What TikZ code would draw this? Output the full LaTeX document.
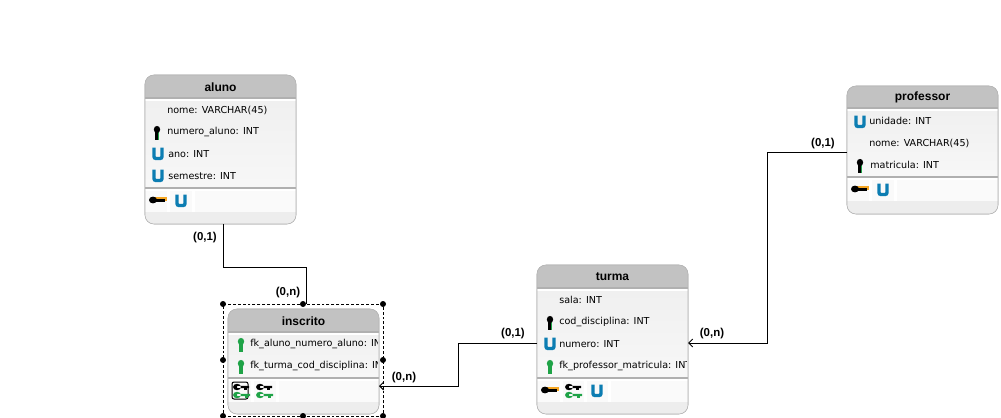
\documentclass[tikz,border=0pt]{standalone}
\usepackage{xcolor}
\usepackage{fontspec}
\setmainfont{Liberation Sans}
\newfontfamily\attrfont{DejaVu Sans}
\usetikzlibrary{positioning}
\usetikzlibrary{arrows.meta}
\definecolor{headgray}{HTML}{C2C2C2}
\definecolor{linegray}{HTML}{B0B0B0}
\definecolor{boxline}{HTML}{B4B4B4}
\definecolor{ublue}{HTML}{0C7DB2}
\definecolor{keygreen}{HTML}{1FA347}
\definecolor{keyorange}{HTML}{F5A623}
\newcommand{\px}{0.75pt}
\tikzset{
	x=0.75pt, y=-0.75pt, % one unit is one pixel of the reference
	entitybox/.style={
			draw=boxline,
			fill=white,
			rounded corners=9*\px,
			anchor=north west,
			inner sep=0,
			outer sep=0,
			minimum width=151*\px
		},
	entitytitle/.style={font=\bfseries\fontsize{9}{9}\selectfont},
	attr/.style={anchor=west, inner sep=0, font=\attrfont\fontsize{7.2}{8}\selectfont},
	card/.style={font=\bfseries\fontsize{8.6}{9}\selectfont},
	relation/.style={draw, line width=\px},
	selection/.style={
			draw,
			dash pattern=on 2.2pt off 1.5pt,
			inner sep=0,
			outer sep=0,
			line width=0.6*\px,
			minimum width=160*\px,
			minimum height=112*\px
		},
	pics/pkey/.style={code={
			\fill[keyorange] (4,-2.6) rectangle (17,0.5);
			\fill[black] (3,0) ellipse (4 and 3.4);
			\fill[black] (3,-1) rectangle (15,1.8);
		}},
	pics/fkey/.style={code={
			\fill[black] (3,0) ellipse (4 and 3.2) (3,-1.2) rectangle (15,1.2);
			\fill[black] (10,1) rectangle (13,2.8);
			\fill[keygreen] (3,8) ellipse (4 and 3.2) (3,6.8) rectangle (16,9.2);
			\fill[keygreen] (11,9) rectangle (14,11);
		}},
	pics/vkey/.style={code={
			\fill[keygreen] (0.5,-2) rectangle (2,7);
			\fill[#1] (0,-3.5) ellipse (3.2 and 3.6);
			\fill[#1] (-1.6,-2) rectangle (1.2,7);
		}},
	pics/uicon/.style={code={
			\draw[ublue, line width=3.4*\px, rounded corners=2*\px] (-4,-6.5) -- (-4,4.5) -- (4,4.5) -- (4,-6.5);
		}}
}

% name, title, left, top, bottom, header bottom, separator, cell lines
\newcommand{\entity}[8]{
	\node[entitybox, minimum height={(#5-#4)*\px}] (#1) at (#3,#4) {};
	\begin{scope}
		\clip[rounded corners=9*\px] (#3,#4) rectangle ++(151,#5-#4);
		\fill[headgray] (#3,#4) rectangle ++(151,#6-#4);
		\shade[top color=black!6, bottom color=black!3] (#3,#6) rectangle ++(151,#7-#6);
		\fill[black!2] (#3,#7) rectangle ++(151,24);
		\fill[black!7] (#3,#7+24) rectangle (#3+151,#5);
		\draw[linegray, line width=2*\px] (#3,#6) -- ++(151,0);
		\draw[linegray, line width=2*\px] (#3,#7) -- ++(151,0);
		\draw[white, line width=2*\px] (#3,#6+2) -- ++(151,0);
		\draw[white, line width=2*\px] (#3,#7+2) -- ++(151,0);
		\foreach \c in {#8} {
				\draw[white, line width=3*\px] (\c,#7+1) -- (\c,#7+24);
			}
	\end{scope}
	\draw[boxline, rounded corners=9*\px] (#3,#4) rectangle ++(151,#5-#4);
	\node[entitytitle] (#1 title) at (#3+75.5,{(#4+#6)/2+0.5}) {#2};
}

\begin{document}
\begin{tikzpicture}
	\useasboundingbox (0,0) rectangle (1001,418);

	\entity{aluno}{aluno}{145}{75}{224}{98}{188}{168,193}
	\entity{inscrito}{inscrito}{228}{309}{414}{332}{378}{252,277}
	\entity{turma}{turma}{537}{265}{414}{288}{378}{561,585,609}
	\entity{professor}{professor}{847}{86}{214}{108}{177}{870,895}

	% aluno
	\node[attr] (aluno nome) at (167,110) {nome: VARCHAR(45)};
	\node[attr] (aluno numero) at (167,132) {numero\_aluno: INT};
	\node[attr] (aluno ano) at (168,154) {ano: INT};
	\node[attr] (aluno semestre) at (168,176) {semestre: INT};
	\pic at (157,133) {vkey=black};
	\pic at (158,154) {uicon};
	\pic at (158,176) {uicon};
	\pic at (150,200) {pkey};
	\pic at (181,201) {uicon};

	% inscrito
	\begin{scope}
		\clip (228,333) rectangle (377,378);
		\node[attr] (inscrito aluno) at (250,344) {fk\_aluno\_numero\_aluno: INT};
		\node[attr] (inscrito turma) at (250,366) {fk\_turma\_cod\_disciplina: INT};
	\end{scope}
	\pic at (241,345) {vkey=keygreen};
	\pic at (241,367) {vkey=keygreen};
	\draw[rounded corners=2*\px, line width=\px] (232,382) rectangle (248,399);
	\pic at (234,387) {fkey};
	\pic at (257,387) {fkey};

	% turma
	\begin{scope}
		\clip (537,289) rectangle (686,378);
		\node[attr] (turma sala) at (559,300) {sala: INT};
		\node[attr] (turma cod) at (559,322) {cod\_disciplina: INT};
		\node[attr] (turma numero) at (559,344) {numero: INT};
		\node[attr] (turma fk) at (559,366) {fk\_professor\_matricula: INT};
	\end{scope}
	\pic at (550,323) {vkey=black};
	\pic at (550,344) {uicon};
	\pic at (550,367) {vkey=keygreen};
	\pic at (542,390) {pkey};
	\pic at (566,387) {fkey};
	\pic at (597,391) {uicon};

	% professor
	\node[attr] (professor unidade) at (869,121) {unidade: INT};
	\node[attr] (professor nome) at (869,143) {nome: VARCHAR(45)};
	\node[attr] (professor matricula) at (870,165) {matricula: INT};
	\pic at (860,122) {uicon};
	\pic at (860,166) {vkey=black};
	\pic at (852,189) {pkey};
	\pic at (883,190) {uicon};

	% selecao
	\node[selection] (selecao) at (303,360) {};
	\foreach \a in {north west,north,north east,west,east,south west,south,south east} {
			\fill (selecao.\a) circle (3);
		}

	% relations
	\coordinate (aluno out) at (223,224);
	\coordinate (inscrito top) at (306,304);
	\coordinate (turma out) at (537,343);
	\coordinate (inscrito right) at (379,386);
	\coordinate (professor out) at (847,152);
	\coordinate (turma right) at (688,343);
	\draw[relation] (aluno out) -- ++(0,43) -| (inscrito top);
	\draw[relation, -{Straight Barb[length=3pt,width=6pt]}] (turma out) -- ++(-79,0) |- (inscrito right);
	\draw[relation, -{Straight Barb[length=3pt,width=6pt]}] (professor out) -- ++(-80,0) |- (turma right);

	\node[card] (card a) at (205,238) {(0,1)};
	\node[card] (card b) at (288,293) {(0,n)};
	\node[card] (card c) at (513,334) {(0,1)};
	\node[card] (card d) at (404,378) {(0,n)};
	\node[card] (card e) at (823,144) {(0,1)};
	\node[card] (card f) at (712,334) {(0,n)};
\end{tikzpicture}
\end{document}
